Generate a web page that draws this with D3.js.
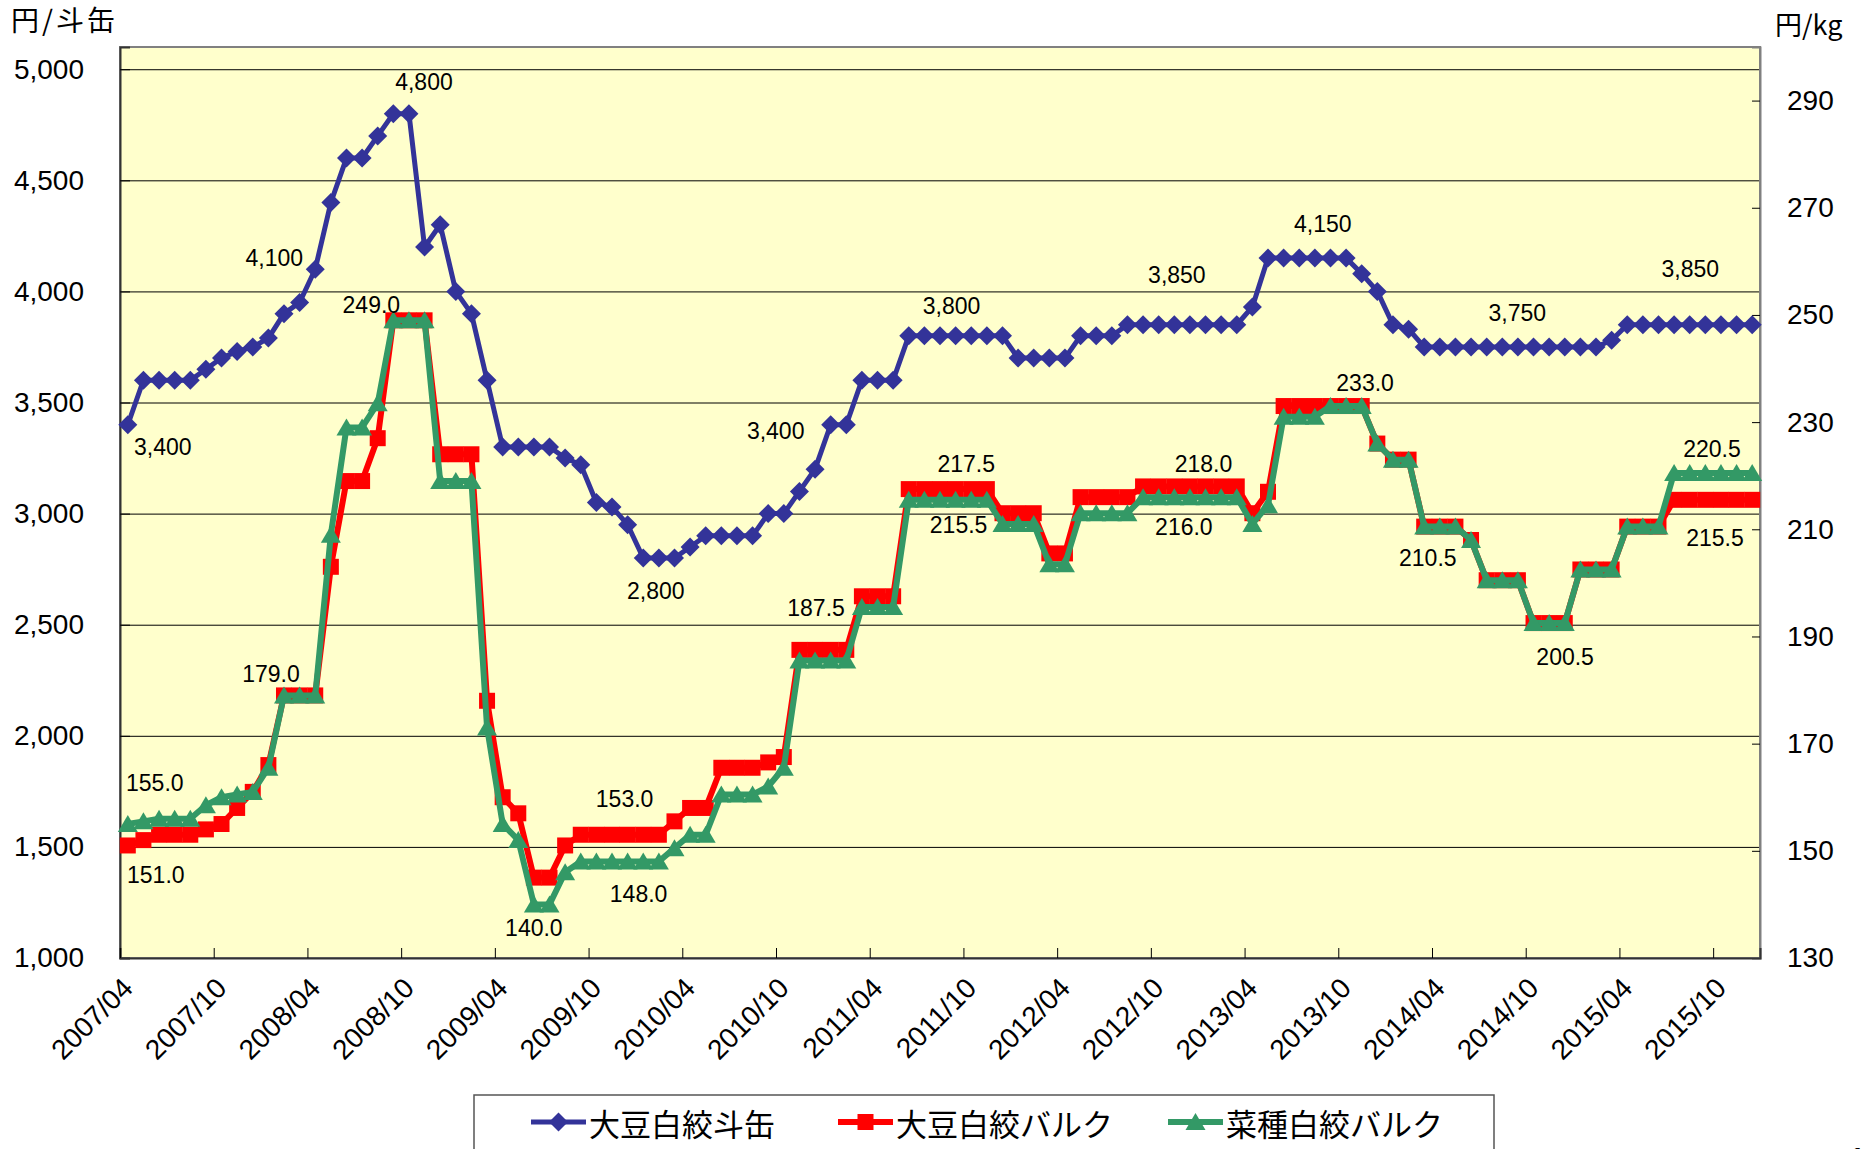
<!DOCTYPE html>
<html>
<head>
<meta charset="utf-8">
<script src="https://cdn.jsdelivr.net/npm/d3@7"></script>
<style>
html, body { margin: 0; padding: 0; background: #fff; }
svg { display: block; }
text { font-family: "Liberation Sans", Arial, sans-serif; fill: #000; }
.jp { font-family: "Noto Sans CJK JP", "Noto Sans CJK SC", sans-serif; }
</style>
</head>
<body>
<div id="chart"></div>
<script>
// monthly categories 2007/04 .. 2015/12
var months = d3.timeMonth.range(new Date(2007, 3, 1), new Date(2016, 0, 1)).map(d3.timeFormat("%Y/%m"));

var tickLabels = ["2007/04", "2007/10", "2008/04", "2008/10", "2009/04", "2009/10",
	"2010/04", "2010/10", "2011/04", "2011/10", "2012/04", "2012/10",
	"2013/04", "2013/10", "2014/04", "2014/10", "2015/04", "2015/10"];

var leftTicks = [1000, 1500, 2000, 2500, 3000, 3500, 4000, 4500, 5000];
var rightTicks = [130, 150, 170, 190, 210, 230, 250, 270, 290];

// 大豆白絞斗缶 (円/斗缶, left axis)
var soyCan = [
	3400, 3600, 3600, 3600, 3600, 3650, 3700, 3730, 3750, 3790,
	3900, 3950, 4100, 4400, 4600, 4600, 4700, 4800, 4800, 4200,
	4300, 4000, 3900, 3600, 3300, 3300, 3300, 3300, 3250, 3220,
	3050, 3030, 2950, 2800, 2800, 2800, 2850, 2900, 2900, 2900,
	2900, 3000, 3000, 3100, 3200, 3400, 3400, 3600, 3600, 3600,
	3800, 3800, 3800, 3800, 3800, 3800, 3800, 3700, 3700, 3700,
	3700, 3800, 3800, 3800, 3850, 3850, 3850, 3850, 3850, 3850,
	3850, 3850, 3930, 4150, 4150, 4150, 4150, 4150, 4150, 4080,
	4000, 3850, 3830, 3750, 3750, 3750, 3750, 3750, 3750, 3750,
	3750, 3750, 3750, 3750, 3750, 3780, 3850, 3850, 3850, 3850,
	3850, 3850, 3850, 3850, 3850];

// 大豆白絞バルク (円/kg, right axis)
var soyBulk = [
	151, 152, 153, 153, 153, 154, 155, 158, 161, 166,
	179, 179, 179, 203, 219, 219, 227, 249, 249, 249,
	224, 224, 224, 178, 160, 157, 145, 145, 151, 153,
	153, 153, 153, 153, 153, 155.5, 158, 158, 165.5, 165.5,
	165.5, 166.5, 167.5, 187.5, 187.5, 187.5, 187.5, 197.5, 197.5, 197.5,
	217.5, 217.5, 217.5, 217.5, 217.5, 217.5, 213, 213, 213, 205.5,
	205.5, 216, 216, 216, 216, 218, 218, 218, 218, 218,
	218, 218, 213, 217, 233, 233, 233, 233, 233, 233,
	226, 223, 223, 210.5, 210.5, 210.5, 208, 200.5, 200.5, 200.5,
	192.5, 192.5, 192.5, 202.5, 202.5, 202.5, 210.5, 210.5, 210.5, 215.5,
	215.5, 215.5, 215.5, 215.5, 215.5];

// 菜種白絞バルク (円/kg, right axis)
var rapeBulk = [
	155, 155.5, 156, 156, 156, 158.5, 160, 160.5, 161, 165.5,
	179, 179, 179, 209, 229, 229, 233.5, 249, 249, 249,
	219, 219, 219, 173, 155, 152, 140, 140, 146, 148,
	148, 148, 148, 148, 148, 150.5, 153, 153, 160.5, 160.5,
	160.5, 162, 165.5, 185.5, 185.5, 185.5, 185.5, 195.5, 195.5, 195.5,
	215.5, 215.5, 215.5, 215.5, 215.5, 215.5, 211, 211, 211, 203.5,
	203.5, 213, 213, 213, 213, 216, 216, 216, 216, 216,
	216, 216, 211, 214.5, 231, 231, 231, 233, 233, 233,
	226, 223, 223, 210.5, 210.5, 210.5, 208, 200.5, 200.5, 200.5,
	192.5, 192.5, 192.5, 202.5, 202.5, 202.5, 210.5, 210.5, 210.5, 220.5,
	220.5, 220.5, 220.5, 220.5, 220.5];

var seriesNames = ["大豆白絞斗缶", "大豆白絞バルク", "菜種白絞バルク"];

// data labels: series index, point index, text, offset from point
var pointLabels = [
	[0, 0, "3,400", 35, 22], [0, 12, "4,100", -41, -11], [0, 18, "4,800", 15, -32],
	[1, 17, "249.0", -22, -15], [2, 10, "179.0", -13, -21], [2, 0, "155.0", 27, -41],
	[1, 0, "151.0", 28, 30], [2, 26, "140.0", 0, 24], [1, 32, "153.0", -3, -36],
	[2, 32, "148.0", 11, 32], [0, 34, "2,800", -3, 33], [0, 45, "3,400", -55, 6],
	[1, 44, "187.5", 1, -42], [0, 53, "3,800", -4, -30], [1, 54, "217.5", -5, -25],
	[2, 53, "215.5", 3, 25], [0, 68, "3,850", -13, -50], [1, 69, "218.0", -2, -22],
	[2, 68, "216.0", -6, 30], [0, 76, "4,150", 8, -34], [1, 78, "233.0", 19, -23],
	[0, 88, "3,750", 15, -34], [2, 84, "210.5", -12, 31], [2, 91, "200.5", 16, 34],
	[0, 101, "3,850", -15, -56], [2, 102, "220.5", -9, -24], [1, 102, "215.5", -6, 38]
];

var width = 1866, height = 1149;
var margin = { top: 47, right: 106, bottom: 191, left: 120 };
var x0 = margin.left, x1 = width - margin.right, y0 = margin.top, y1 = height - margin.bottom;

var svg = d3.select("#chart").append("svg")
	.attr("width", width)
	.attr("height", height);

var x = d3.scaleBand().domain(months).range([x0, x1]);
var xi = d3.scaleLinear().domain([0, months.length]).range([x0, x1]);
var yL = d3.scaleLinear().domain([1000, 5100]).range([y1, y0]);
var yR = d3.scaleLinear().domain([130, 300]).range([y1, y0]);
function cx(i) { return x(months[i]) + x.bandwidth() / 2; }

// plot background
svg.append("rect")
	.attr("x", x0).attr("y", y0)
	.attr("width", x1 - x0).attr("height", y1 - y0)
	.attr("fill", "#FFFFCC");

// gridlines
var grid = svg.append("g")
	.attr("transform", "translate(" + x0 + ",0)")
	.call(d3.axisLeft(yL).tickValues(leftTicks).tickSize(-(x1 - x0)).tickFormat(""));
grid.select(".domain").remove();
grid.selectAll("line").attr("stroke", "#000").attr("stroke-width", 1);

// border
svg.append("rect")
	.attr("x", x0).attr("y", y0)
	.attr("width", x1 - x0).attr("height", y1 - y0)
	.attr("fill", "none")
	.attr("stroke", "#808080")
	.attr("stroke-width", 2);

// left axis
var axL = svg.append("g")
	.attr("transform", "translate(" + x0 + ",0)")
	.call(d3.axisLeft(yL).tickValues(leftTicks).tickSize(-10).tickPadding(36).tickFormat(d3.format(",")));
axL.select(".domain").attr("stroke", "#333").attr("stroke-width", 2);
axL.selectAll("line").attr("stroke", "#000");
axL.selectAll("text").attr("font-size", 28).attr("font-family", "Liberation Sans, Arial, sans-serif");

// right axis
var axR = svg.append("g")
	.attr("transform", "translate(" + x1 + ",0)")
	.call(d3.axisRight(yR).tickValues(rightTicks).tickSize(-8).tickPadding(27));
axR.select(".domain").attr("stroke", "#808080").attr("stroke-width", 2);
axR.selectAll("line").attr("stroke", "#000");
axR.selectAll("text").attr("font-size", 28).attr("font-family", "Liberation Sans, Arial, sans-serif");

// bottom axis
var axB = svg.append("g")
	.attr("transform", "translate(0," + y1 + ")")
	.call(d3.axisBottom(xi).tickValues(d3.range(0, months.length, 6)).tickSize(-10).tickFormat(""));
axB.select(".domain").attr("stroke", "#333").attr("stroke-width", 2);
axB.selectAll("line").attr("stroke", "#000");

svg.append("g").selectAll("text")
	.data(tickLabels)
	.join("text")
	.attr("transform", function (d) {
		return "translate(" + cx(months.indexOf(d)) + "," + (y1 + 25) + ") rotate(-45)";
	})
	.attr("text-anchor", "end")
	.attr("dominant-baseline", "central")
	.attr("font-size", 28)
	.text(function (d) { return d; });

// axis titles
svg.append("text").attr("class", "jp")
	.attr("x", 11).attr("y", 31)
	.attr("font-size", 28)
	.style("letter-spacing", "3px")
	.text("円/斗缶");
svg.append("text").attr("class", "jp")
	.attr("x", 1775).attr("y", 35)
	.attr("font-size", 27)
	.text("円/kg");

// series
var series = [
	{ data: soyCan, y: yL, color: "#333399", width: 5, marker: "diamond" },
	{ data: soyBulk, y: yR, color: "#FF0000", width: 6, marker: "square" },
	{ data: rapeBulk, y: yR, color: "#339966", width: 6, marker: "triangle" }
];

var markerPath = {
	diamond: "M0,-9.5L9.5,0L0,9.5L-9.5,0Z",
	square: "M-8,-8H8V8H-8Z",
	triangle: "M0,-9L10,8H-10Z"
};

series.forEach(function (s) {
	var line = d3.line()
		.x(function (d, i) { return cx(i); })
		.y(function (d) { return s.y(d); });
	var g = svg.append("g");
	g.append("path")
		.datum(s.data)
		.attr("d", line)
		.attr("fill", "none")
		.attr("stroke", s.color)
		.attr("stroke-width", s.width)
		.attr("stroke-linejoin", "round");
	g.selectAll("path.m")
		.data(s.data)
		.join("path")
		.attr("class", "m")
		.attr("d", markerPath[s.marker])
		.attr("transform", function (d, i) { return "translate(" + cx(i) + "," + s.y(d) + ")"; })
		.attr("fill", s.color);
});

// point labels
svg.append("g").selectAll("text")
	.data(pointLabels)
	.join("text")
	.attr("x", function (d) { return cx(d[1]) + d[3]; })
	.attr("y", function (d) { return series[d[0]].y(series[d[0]].data[d[1]]) + d[4]; })
	.attr("text-anchor", "middle")
	.attr("dominant-baseline", "central")
	.attr("font-size", 23)
	.text(function (d) { return d[2]; });

// legend
var legend = svg.append("g");
legend.append("rect")
	.attr("x", 474).attr("y", 1095)
	.attr("width", 1020).attr("height", 80)
	.attr("fill", "#fff")
	.attr("stroke", "#555")
	.attr("stroke-width", 1.5);

var legendX = [531, 838, 1168];
series.forEach(function (s, k) {
	var g = legend.append("g").attr("transform", "translate(" + legendX[k] + ",1122)");
	g.append("line")
		.attr("x1", 0).attr("x2", 55)
		.attr("stroke", s.color)
		.attr("stroke-width", s.width);
	g.append("path")
		.attr("d", markerPath[s.marker])
		.attr("transform", "translate(27.5,0)")
		.attr("fill", s.color);
	g.append("text").attr("class", "jp")
		.attr("x", 58).attr("y", 0)
		.attr("dominant-baseline", "central")
		.attr("font-size", 31)
		.text(seriesNames[k]);
});

// page number, cut at the bottom edge
svg.append("text")
	.attr("x", 1850).attr("y", 1166)
	.attr("font-size", 26)
	.attr("font-weight", "bold")
	.text("1");
</script>
</body>
</html>
